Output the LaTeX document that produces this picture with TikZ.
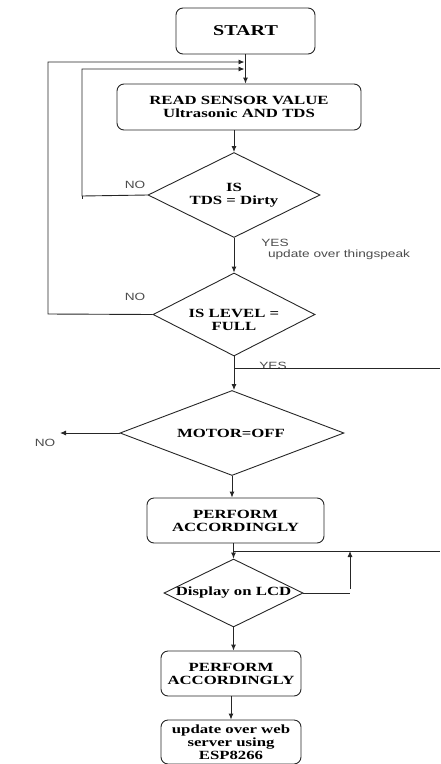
\documentclass[tikz,border=0pt]{standalone}
\usepackage{fontspec}
\setmainfont{Liberation Serif}[FakeStretch=1.34]
\newfontfamily\labfont{Liberation Sans}[FakeStretch=1.3]
\usetikzlibrary{shapes.geometric,arrows.meta}

\begin{document}
\begin{tikzpicture}[x=1pt,y=-1pt,
  line width=0.9pt, draw=black!85,
  box/.style={draw, rounded corners=7pt, align=center, inner sep=0pt,
    font=\bfseries\fontsize{12.5}{13}\selectfont},
  dia/.style={draw, diamond, inner sep=0pt},
  txt/.style={align=center, inner sep=0pt, font=\bfseries\fontsize{12.5}{13}\selectfont},
  lab/.style={inner sep=0pt, text=black!70, font=\labfont\fontsize{10.5}{12}\selectfont},
  arr/.style={-{Latex[length=6pt,width=5pt]}}]

\useasboundingbox (0,0) rectangle (440,764);

% process boxes
\node[box, minimum width=139pt, minimum height=46pt,
      font=\bfseries\fontsize{15}{16}\selectfont] (start) at (245.5,31) {START};
\node[box, minimum width=244pt, minimum height=46pt] (read) at (239,107)
  {READ SENSOR VALUE\\ Ultrasonic AND TDS};
\node[box, minimum width=177pt, minimum height=45pt] (perf1) at (235.5,520.5)
  {PERFORM\\ACCORDINGLY};
\node[box, minimum width=140pt, minimum height=45pt] (perf2) at (231,673.5)
  {PERFORM\\ACCORDINGLY};
\node[box, minimum width=140pt, minimum height=44pt] (web) at (231,742)
  {update over web\\server using\\ESP8266};

% decisions
\node[dia, minimum width=172pt, minimum height=85pt] (tds) at (234,195) {};
\node[txt] (tdst) at (234,195.5) {IS\\TDS = Dirty};
\node[dia, minimum width=162pt, minimum height=83pt] (level) at (234,314.5) {};
\node[txt] (levelt) at (234,320) {IS LEVEL =\\FULL};
\node[dia, minimum width=224pt, minimum height=85pt] (motor) at (232,433) {};
\node[txt] (motort) at (231,433) {MOTOR=OFF};
\node[dia, minimum width=139pt, minimum height=68pt] (lcd) at (233.5,593) {};
\node[txt] (lcdt) at (233.5,593) {Display on LCD};

% branch labels
\node[lab] (no1) at (135,185) {NO};
\node[lab] (no2) at (135,297) {NO};
\node[lab] (yes1) at (275,243) {YES};
\node[lab] (upd) at (339,255) {update over thingspeak};
\node[lab] (yes2) at (273,366) {YES};
\node[lab] (no3) at (45,443) {NO};

% free ends and corners
\coordinate (loopA) at (48,314);
\coordinate (loopB) at (82,196);
\coordinate (rightA) at (440,368);
\coordinate (rightB) at (440,551);
\coordinate (noEnd) at (60,433);
\coordinate (upX) at (350,593);

% main flow
\draw[arr] (start.south) -- (start.south |- read.north);
\draw[arr] (tds.north |- read.south) -- (tds.north);
\draw[arr] (tds.south) -- (level.north);
\draw[arr] (level.south) -- (level.south |- motor.north);
\draw[arr] (motor.south) -- (motor.south |- perf1.north);
\draw[arr] (lcd.north |- perf1.south) -- (lcd.north);
\draw[arr] (lcd.south) -- (lcd.south |- perf2.north);
\draw[arr] (perf2.south) -- (web.north);

% loops back to the sensor reading
\draw[arr] (level.west) -- (loopA) -- (loopA |- 0,62) -- ([xshift=-1pt]start.south |- 0,62);
\draw (loopB) -- ++(0,3);
\draw[arr] (tds.west) -- (loopB) -- (loopB |- 0,69) -- ([xshift=-1pt]start.south |- 0,69);

% side lines
\draw (level.south |- rightA) -- (rightA);
\draw[arr] (motor.west) -- (noEnd);
\draw (lcd.north |- rightB) -- (rightB);
\draw (lcd.east) -- (upX);
\draw[arr] ([yshift=4pt]upX) -- (upX |- rightB);
\end{tikzpicture}
\end{document}
